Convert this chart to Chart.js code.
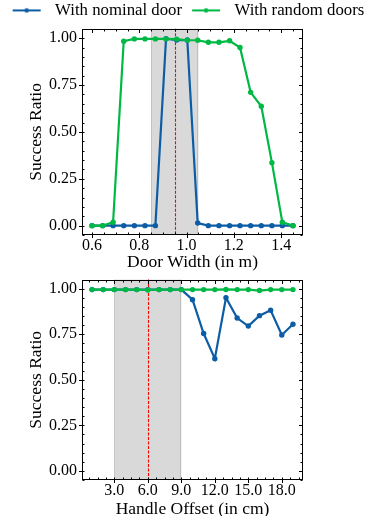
<!DOCTYPE html>
<html><head><meta charset="utf-8">
<script src="https://cdn.jsdelivr.net/npm/chart.js@4"></script>
<style>
html,body{margin:0;padding:0;background:#fff;overflow:hidden;width:369px;height:516px}
#c1{position:absolute;left:0;top:0}
#c2{position:absolute;left:0;top:265px}
</style></head><body>
<canvas id="c1" width="369" height="273"></canvas>
<canvas id="c2" width="369" height="255"></canvas>
<script>
// ---- data ----
const doorWidths = [0.600,0.645,0.689,0.734,0.779,0.824,0.868,0.913,0.958,1.003,1.047,1.092,1.137,1.182,1.226,1.271,1.316,1.361,1.405,1.450];
const nominalDoorWidthSuccess = [0,0,0,0,0,0,0,0.997,0.99,0.99,0.014,0,0,0,0,0,0,0,0,0];
const randomDoorsWidthSuccess = [0,0,0.018,0.984,0.996,0.996,0.996,0.996,0.995,0.989,0.989,0.978,0.978,0.986,0.95,0.711,0.637,0.336,0.018,0.0];
const handleOffsets = [1,2,3,4,5,6,7,8,9,10,11,12,13,14,15,16,17,18,19];
const nominalDoorHandleSuccess = [0.995,0.995,0.995,0.995,0.995,0.995,0.995,0.995,0.995,0.94,0.754,0.616,0.95,0.839,0.795,0.852,0.882,0.746,0.805];
const randomDoorsHandleSuccess = [0.995,0.995,0.995,0.995,0.995,0.993,0.995,0.995,0.995,0.995,0.995,0.995,0.996,0.995,0.995,0.99,0.995,0.995,0.995];
const widthTicks = [0.6,0.8,1.0,1.2,1.4];
const offsetTicks = [3,6,9,12,15,18];
const ratioTicks = [0,0.25,0.5,0.75,1.0];
const widthTrainRange = [0.85,1.05];
const widthNominal = 0.95;
const offsetTrainRange = [3,9];
const offsetNominal = 6;
const seriesLabels = ['With nominal door','With random doors'];

const BLUE = '#0C5DA5', GREEN = '#00B945', RED = '#ff0000';
const serif = "'Liberation Serif','Times New Roman',Times,serif";
Chart.defaults.font.family = serif;
Chart.defaults.font.size = 16;
Chart.defaults.color = '#000';

function legendIcon(color){
  const c = document.createElement('canvas');
  c.width = 42; c.height = 10;
  const g = c.getContext('2d');
  g.strokeStyle = color; g.lineWidth = 2;
  g.beginPath(); g.moveTo(8,5); g.lineTo(36,5); g.stroke();
  g.fillStyle = color; g.beginPath(); g.arc(22,5,2.3,0,Math.PI*2); g.fill();
  return c;
}
const icons = [legendIcon(BLUE), legendIcon(GREEN)];

const axesDecor = {
  id:'axesDecor',
  beforeDatasetsDraw(chart, args, o){
    const {ctx, chartArea:a} = chart;
    const x = chart.scales.x;
    ctx.save();
    const x0 = x.getPixelForValue(o.span[0]), x1 = x.getPixelForValue(o.span[1]);
    ctx.fillStyle = 'rgba(128,128,128,0.3)';
    ctx.fillRect(x0, a.top, x1-x0, a.bottom-a.top);
    ctx.strokeStyle = 'rgba(128,128,128,0.3)'; ctx.lineWidth = 1;
    ctx.beginPath();
    ctx.moveTo(Math.round(x0)+0.5, a.top); ctx.lineTo(Math.round(x0)+0.5, a.bottom);
    ctx.moveTo(Math.round(x1)-0.5, a.top); ctx.lineTo(Math.round(x1)-0.5, a.bottom);
    ctx.stroke();
    ctx.restore();
    ctx.save();
    const xr = Math.round(x.getPixelForValue(o.nominal))+0.5;
    ctx.globalAlpha = 1;
    ctx.strokeStyle = RED; ctx.lineWidth = 1.1; ctx.setLineDash([3,1.5]);
    ctx.beginPath(); ctx.moveTo(xr, a.top); ctx.lineTo(xr, a.bottom); ctx.stroke();
    ctx.restore();
  },
  afterDatasetsDraw(chart, args, o){
    const {ctx, chartArea:a} = chart;
    const x = chart.scales.x, y = chart.scales.y;
    const L=Math.round(a.left)+0.5, R=Math.round(a.right)-0.5, T=Math.round(a.top)+0.5, B=Math.round(a.bottom)-0.5;
    ctx.save();
    ctx.setLineDash([]);
    ctx.strokeStyle = '#000'; ctx.lineWidth = 1;
    ctx.strokeRect(L, T, R-L, B-T);
    ctx.beginPath();
    const seg=(x1,y1,x2,y2)=>{ctx.moveTo(x1,y1);ctx.lineTo(x2,y2);};
    x.ticks.forEach(t=>{const p=Math.round(x.getPixelForValue(t.value))+0.5; seg(p,B,p,B+3.5); seg(p,T,p,T+3.5);});
    y.ticks.forEach(t=>{const p=Math.round(y.getPixelForValue(t.value))+0.5; seg(L,p,L-3.5,p); seg(R,p,R-3.5,p);});
    for(let k=Math.ceil(x.min/o.xMinor); k*o.xMinor<=x.max; k++){
      const p=Math.round(x.getPixelForValue(k*o.xMinor))+0.5; seg(p,B,p,B-2); seg(p,T,p,T+2);
    }
    for(let k=Math.ceil(y.min/o.yMinor); k*o.yMinor<=y.max; k++){
      const p=Math.round(y.getPixelForValue(k*o.yMinor))+0.5; seg(L,p,L+2,p); seg(R,p,R-2,p);
    }
    ctx.stroke();
    ctx.restore();
  }
};

function ds(label, xs, ys, color, order){
  return {label, data: xs.map((x,i)=>({x, y:ys[i]})), borderColor:color, backgroundColor:color,
    borderWidth:2.2, pointRadius:2.7, pointBorderWidth:0, pointHoverRadius:2.7, order, tension:0};
}

function makeScales(xCfg){
  return {
    x:{type:'linear', min:xCfg.min, max:xCfg.max,
      afterBuildTicks:s=>{s.ticks = xCfg.ticks.map(v=>({value:v}));},
      ticks:{callback:v=>Number(v).toFixed(1), padding:1, maxRotation:0, autoSkip:false},
      grid:{display:false, drawTicks:false}, border:{display:false},
      title:{display:true, text:xCfg.title, padding:0, font:{size:17.5}},
      afterFit:s=>{s.height = xCfg.h;}},
    y:{type:'linear', min:-0.05, max:1.05,
      afterBuildTicks:s=>{s.ticks = ratioTicks.map(v=>({value:v}));},
      ticks:{callback:v=>Number(v).toFixed(2), padding:5},
      grid:{display:false, drawTicks:false}, border:{display:false},
      title:{display:true, text:'Success Ratio', padding:{top:26,bottom:0}, font:{size:17.5}},
      afterFit:s=>{s.width = 82;}},
    yR:{type:'linear', position:'right', display:true, ticks:{display:false},
      grid:{display:false, drawTicks:false}, border:{display:false},
      afterFit:s=>{s.width = 66;}}
  };
}

new Chart(document.getElementById('c1'), {
  type:'line',
  data:{datasets:[
    ds(seriesLabels[0], doorWidths, nominalDoorWidthSuccess, BLUE, 1),
    ds(seriesLabels[1], doorWidths, randomDoorsWidthSuccess, GREEN, 0)
  ]},
  options:{
    responsive:false, animation:false, devicePixelRatio:1,
    layout:{padding:0},
    plugins:{
      legend:{display:true, position:'top',
        labels:{usePointStyle:true, pointStyleWidth:42, padding:2, color:'#000', font:{size:16.8},
          sort:(a,b)=>a.datasetIndex-b.datasetIndex,
          generateLabels:(chart)=>Chart.defaults.plugins.legend.labels.generateLabels(chart).map(l=>Object.assign(l,{pointStyle:icons[l.datasetIndex]}))}},
      tooltip:{enabled:false},
      axesDecor:{span:widthTrainRange, nominal:widthNominal, xMinor:0.05, yMinor:0.05}
    },
    scales:makeScales({min:0.5575, max:1.4925, ticks:widthTicks, title:'Door Width (in m)', h:38})
  },
  plugins:[axesDecor]
});

new Chart(document.getElementById('c2'), {
  type:'line',
  data:{datasets:[
    ds(seriesLabels[0], handleOffsets, nominalDoorHandleSuccess, BLUE, 1),
    ds(seriesLabels[1], handleOffsets, randomDoorsHandleSuccess, GREEN, 0)
  ]},
  options:{
    responsive:false, animation:false, devicePixelRatio:1,
    layout:{padding:{top:10}},
    plugins:{
      legend:{display:false},
      tooltip:{enabled:false},
      axesDecor:{span:offsetTrainRange, nominal:offsetNominal, xMinor:0.75, yMinor:0.05}
    },
    scales:makeScales({min:0.1, max:19.9, ticks:offsetTicks, title:'Handle Offset (in cm)', h:40})
  },
  plugins:[axesDecor]
});
</script>
</body></html>
